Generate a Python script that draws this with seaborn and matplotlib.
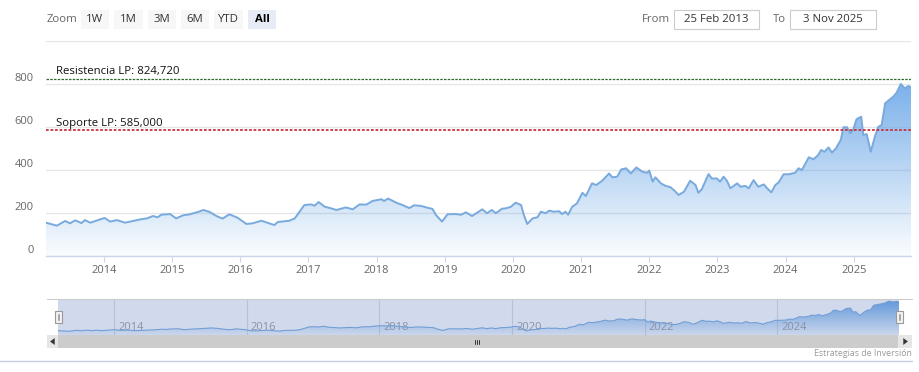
import numpy as np
import pandas as pd
import seaborn as sns
import matplotlib.pyplot as plt
from matplotlib.patches import Rectangle, Polygon
from matplotlib.transforms import offset_copy, blended_transform_factory

# ------------------------------------------------------------------------------
# Data (weekly-ish samples)
# ------------------------------------------------------------------------------
years = [2013.15, 2013.31, 2013.43, 2013.50, 2013.58, 2013.67, 2013.72, 2013.80,
         2014.01, 2014.09, 2014.19, 2014.31, 2014.53, 2014.63, 2014.72, 2014.79, 2014.84, 2014.97,
         2015.06, 2015.16, 2015.26, 2015.38, 2015.46, 2015.55, 2015.65, 2015.74, 2015.84, 2015.96,
         2016.09, 2016.18, 2016.31, 2016.47, 2016.50, 2016.55, 2016.72, 2016.80, 2016.87, 2016.94,
         2017.04, 2017.09, 2017.15, 2017.24, 2017.33, 2017.41, 2017.55, 2017.65, 2017.75, 2017.85, 2017.94,
         2018.07, 2018.11, 2018.17, 2018.29, 2018.38, 2018.48, 2018.55, 2018.65, 2018.74, 2018.82, 2018.87, 2018.96,
         2019.04, 2019.16, 2019.24, 2019.31, 2019.40, 2019.55, 2019.62, 2019.69, 2019.75, 2019.84, 2019.90, 2019.97,
         2020.04, 2020.12, 2020.16, 2020.21, 2020.29, 2020.36, 2020.41, 2020.48, 2020.53, 2020.60, 2020.68, 2020.72,
         2020.77, 2020.81, 2020.87, 2020.94,
         2021.02, 2021.07, 2021.16, 2021.22, 2021.31, 2021.41, 2021.46, 2021.53, 2021.59, 2021.66, 2021.73, 2021.81,
         2021.90, 2021.97,
         2022.00, 2022.05, 2022.09, 2022.17, 2022.24, 2022.31, 2022.36, 2022.43, 2022.51, 2022.60, 2022.68, 2022.72,
         2022.77, 2022.87, 2022.92, 2022.99,
         2023.04, 2023.09, 2023.14, 2023.19, 2023.29, 2023.34, 2023.41, 2023.46, 2023.53, 2023.60, 2023.68, 2023.73,
         2023.79, 2023.85, 2023.90, 2023.97,
         2024.04, 2024.14, 2024.19, 2024.24, 2024.34, 2024.41, 2024.48, 2024.52, 2024.57, 2024.63, 2024.68, 2024.74,
         2024.78, 2024.81, 2024.85, 2024.90, 2024.95, 2024.99,
         2025.04, 2025.11, 2025.14, 2025.19, 2025.25, 2025.31, 2025.36, 2025.41, 2025.46, 2025.52, 2025.58, 2025.63,
         2025.69, 2025.75, 2025.80, 2025.84]

prices = [155, 141, 163, 152, 166, 153, 167, 155,
          177, 160, 167, 155, 170, 175, 186, 180, 192, 195,
          175, 189, 194, 205, 214, 205, 186, 174, 194, 178,
          149, 152, 164, 147, 144, 158, 164, 175, 206, 237,
          240, 234, 251, 229, 222, 214, 226, 217, 240, 239, 256,
          264, 256, 267, 248, 237, 223, 236, 233, 225, 219, 191, 160,
          194, 195, 192, 203, 186, 217, 199, 214, 199, 220, 222, 229,
          248, 237, 191, 149, 175, 180, 206, 199, 211, 206, 208, 195,
          206, 192, 229, 245,
          294, 279, 338, 330, 350, 384, 366, 369, 403, 408, 384, 412,
          392, 387,
          397, 346, 366, 338, 326, 320, 307, 284, 299, 350, 330, 294,
          310, 381, 360, 361,
          346, 369, 350, 315, 338, 322, 326, 315, 353, 322, 333, 315,
          296, 330, 343, 380,
          380, 387, 408, 400, 459, 450, 470, 493, 485, 505, 481, 501,
          524, 540, 599, 599, 571, 586,
          636, 648, 563, 567, 485, 555, 601, 609, 710, 726, 741, 760,
          800, 780, 791, 785]

resistance = 824.72
support = 585.0
resistance_label = 'Resistencia LP: 824,720'
support_label = 'Soporte LP: 585,000'

y_ticks = [0, 200, 400, 600, 800, 1000]
y_labels = ['0', '200', '400', '600', '800', '']
x_ticks = list(range(2014, 2026))
nav_ticks = [2014, 2016, 2018, 2020, 2022, 2024]

zoom_buttons = ['1W', '1M', '3M', '6M', 'YTD', 'All']
selected_button = 'All'
from_date = '25 Feb 2013'
to_date = '3 Nov 2025'
credit = 'Estrategias de Inversión'

df = pd.DataFrame({'year': years, 'price': prices})

# ------------------------------------------------------------------------------
# Style
# ------------------------------------------------------------------------------
sns.set_style('white')
plt.rcParams['font.family'] = ['Open Sans', 'DejaVu Sans']

W, H = 920, 372
LINE = '#78aade'
FILL_TOP = (0.36, 0.62, 0.90)
TXT = '#666666'


def px_box(x0, y0, x1, y1):
    # pixel box (top-left origin) -> figure rect
    return [x0 / W, 1 - y1 / H, (x1 - x0) / W, (y1 - y0) / H]


def gradient_area(ax, x, y, ymin, ymax, rgb, a_top=1.0, a_bot=0.03):
    poly = ax.fill_between(x, y, ymin, color='none', lw=0)
    path = poly.get_paths()[0]
    grad = np.zeros((256, 1, 4))
    grad[:, 0, :3] = rgb
    grad[:, 0, 3] = np.linspace(a_top, a_bot, 256)
    im = ax.imshow(grad, aspect='auto', origin='upper', zorder=1,
                   extent=[min(x), max(x), ymin, ymax])
    im.set_clip_path(path, transform=ax.transData)


fig = plt.figure(figsize=(W / 100, H / 100), dpi=100)

# ------------------------------------------------------------------------------
# Main chart
# ------------------------------------------------------------------------------
ax = fig.add_axes(px_box(46, 41, 911, 256))
gradient_area(ax, df['year'], df['price'], 0, 1000, FILL_TOP)
sns.lineplot(data=df, x='year', y='price', ax=ax, color=LINE, linewidth=1.4,
             estimator=None, zorder=3)

ax.set_xlim(min(years), max(years))
ax.set_ylim(0, 1000)
ax.set_yticks(y_ticks)
ax.set_yticklabels(y_labels)
ax.set_xticks(x_ticks)
ax.set_xticklabels([str(t) for t in x_ticks])
ax.set_xlabel('')
ax.set_ylabel('')
ax.set_axisbelow(True)
ax.grid(axis='y', color='#e6e6e6', linewidth=1)
ax.grid(axis='x', visible=False)
for s in ['top', 'right', 'left']:
    ax.spines[s].set_visible(False)
ax.spines['bottom'].set_color('#ccd6eb')
ax.spines['bottom'].set_linewidth(1)
ax.tick_params(axis='y', length=0, pad=9, labelsize=8, labelcolor=TXT)
ax.tick_params(axis='x', length=4, width=0.8, color='#ccd6eb', pad=2.5,
               labelsize=8, labelcolor=TXT, direction='out', bottom=True)
for lbl in ax.get_yticklabels():
    lbl.set_verticalalignment('bottom')

# support / resistance plot lines
ax.axhline(resistance, color='#2f6b2f', linestyle=(0, (2, 1)), linewidth=0.9, zorder=4)
ax.axhline(support, color='#c8323f', linestyle=(0, (1.5, 1)), linewidth=1.3, zorder=4)
tr = blended_transform_factory(ax.transAxes, ax.transData)
ax.text(10 / 865, resistance + 8, resistance_label, transform=tr, fontsize=8.2,
        color='#111111', va='bottom', ha='left', zorder=5)
ax.text(10 / 865, support + 8, support_label, transform=tr, fontsize=8.2,
        color='#111111', va='bottom', ha='left', zorder=5)

# ------------------------------------------------------------------------------
# Navigator
# ------------------------------------------------------------------------------
nav = fig.add_axes(px_box(58, 299, 899, 335))
gradient_area(nav, df['year'], df['price'], 60, 845, FILL_TOP, a_top=1.0, a_bot=0.05)
sns.lineplot(data=df, x='year', y='price', ax=nav, color=LINE, linewidth=0.8,
             estimator=None, zorder=3)
nav.set_xlim(min(years), max(years))
nav.set_ylim(60, 845)
nav.set_xlabel('')
nav.set_ylabel('')
nav.set_xticks([])
nav.set_yticks([])
for s in nav.spines.values():
    s.set_visible(False)
for t in nav_ticks:
    nav.axvline(t, color='#dddddd', linewidth=0.8, zorder=0.5)
    nav.text(t, 0.2, str(t), transform=offset_copy(blended_transform_factory(nav.transData, nav.transAxes),
                                                    fig=fig, x=4, y=0, units='dots'),
             fontsize=8, color='#999999', va='center', ha='left', zorder=2)
nav.add_patch(Rectangle((0, 0), 1, 1, transform=nav.transAxes, facecolor='#6685c2',
                        alpha=0.3, edgecolor='none', zorder=6))

# ------------------------------------------------------------------------------
# Chrome overlay in pixel coordinates (range selector, scrollbar, credits)
# ------------------------------------------------------------------------------
ov = fig.add_axes([0, 0, 1, 1])
ov.set_xlim(0, W)
ov.set_ylim(H, 0)
ov.axis('off')
ov.patch.set_alpha(0)

ov.text(47, 19.5, 'Zoom', fontsize=8.2, color=TXT, va='center', ha='left')
btn_x = [81, 114, 148, 181, 214, 248]
btn_w = [28, 29, 28, 28, 29, 28]
for label, bx, bw in zip(zoom_buttons, btn_x, btn_w):
    sel = label == selected_button
    ov.add_patch(Rectangle((bx, 10), bw, 19, facecolor='#e6ebf5' if sel else '#f7f7f7',
                           edgecolor='none'))
    ov.text(bx + bw / 2, 19.5, label, fontsize=8.2, color='#000000' if sel else '#333333',
            fontweight='bold' if sel else 'normal', va='center', ha='center')

ov.text(642, 19.5, 'From', fontsize=8.2, color=TXT, va='center', ha='left')
ov.add_patch(Rectangle((674, 10), 85, 19, facecolor='white', edgecolor='#cccccc', linewidth=0.8))
ov.text(716.5, 19.5, from_date, fontsize=8.2, color='#333333', va='center', ha='center')
ov.text(773, 19.5, 'To', fontsize=8.2, color=TXT, va='center', ha='left')
ov.add_patch(Rectangle((790, 10), 86, 19, facecolor='white', edgecolor='#cccccc', linewidth=0.8))
ov.text(833, 19.5, to_date, fontsize=8.2, color='#333333', va='center', ha='center')

# navigator outline + handles
ov.plot([47, 912], [299, 299], color='#cccccc', linewidth=0.8)
for hx in [55, 896]:
    ov.add_patch(Rectangle((hx, 311), 7, 12, facecolor='#f2f2f2', edgecolor='#999999', linewidth=0.8))
    ov.plot([hx + 2.8, hx + 2.8], [314, 320], color='#999999', linewidth=0.6)
    ov.plot([hx + 4.2, hx + 4.2], [314, 320], color='#999999', linewidth=0.6)

# scrollbar
ov.add_patch(Rectangle((47, 335), 865, 13, facecolor='#f2f2f2', edgecolor='none'))
ov.add_patch(Rectangle((58, 335), 840, 13, facecolor='#cccccc', edgecolor='none'))
ov.add_patch(Rectangle((47, 335), 11, 13, facecolor='#e6e6e6', edgecolor='none'))
ov.add_patch(Rectangle((898, 335), 14, 13, facecolor='#e6e6e6', edgecolor='none'))
ov.add_patch(Polygon([[50.5, 341.5], [54.5, 338.5], [54.5, 344.5]], closed=True,
                     facecolor='#333333', edgecolor='#333333', linewidth=0.3))
ov.add_patch(Polygon([[907.5, 341.5], [903.5, 338.5], [903.5, 344.5]], closed=True,
                     facecolor='#333333', edgecolor='#333333', linewidth=0.3))
for rx in [475.5, 477.5, 479.5]:
    ov.plot([rx, rx], [339.5, 343.5], color='#333333', linewidth=0.7)

# bottom border + credit
ov.plot([0, 912], [361, 361], color='#c8cde0', linewidth=1)
ov.text(912, 353, credit, fontsize=6.3, color='#999999', va='center', ha='right')

plt.savefig('out.png', dpi=100, facecolor='white')
